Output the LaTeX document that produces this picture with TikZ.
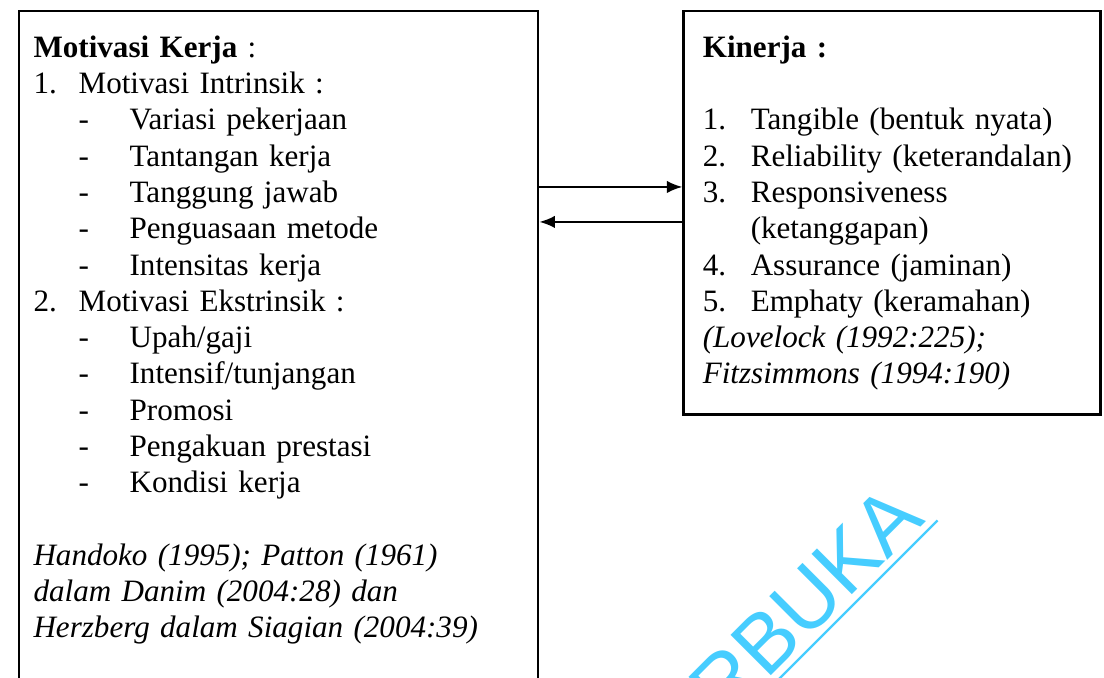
\documentclass[tikz,border=0pt]{standalone}
\usepackage{fontspec}
\setmainfont{Liberation Serif}
\newfontfamily\tandafont{Liberation Sans}
\usepackage{tikz}
\usetikzlibrary{arrows.meta,positioning}
\definecolor{birumuda}{RGB}{70,205,255}

\newcommand{\nomor}[3][17.4pt]{\makebox[#1][l]{#2}#3}
\newcommand{\butir}[1]{\hspace*{17.4pt}\makebox[19.7pt][l]{-}#1}

\begin{document}
\begin{tikzpicture}[x=0.386pt,y=-0.386pt,
	kotak/.style={rectangle,draw,line width=0.95pt,inner sep=0pt,anchor=north west},
	isi/.style={align=left,inner sep=0pt,anchor=north west,font=\fontsize{12}{14}\selectfont},
	panah/.style={line width=0.8pt,-{Latex[length=6pt,width=4.8pt]}}]
	\useasboundingbox (0,0) rectangle (1104,677);
	\clip (0,0) rectangle (1104,677);

	\begin{scope}
		\node[kotak,minimum width=200.3pt,minimum height=270pt] (motivasi) at (18,10) {};
		\node[kotak,minimum width=161pt,minimum height=155.6pt,right=55.2pt of motivasi.north east,anchor=north west] (kinerja) {};
		\node[isi,text width=185pt] (motivasiIsi) at ([xshift=5.8pt,yshift=-8.3pt]motivasi.north west) {\strut\textbf{Motivasi Kerja} :\\
			\nomor{1.}{Motivasi Intrinsik :}\\
			\butir{Variasi pekerjaan}\\
			\butir{Tantangan kerja}\\
			\butir{Tanggung jawab}\\
			\butir{Penguasaan metode}\\
			\butir{Intensitas kerja}\\
			\nomor{2.}{Motivasi Ekstrinsik :}\\
			\butir{Upah/gaji}\\
			\butir{Intensif/tunjangan}\\
			\butir{Promosi}\\
			\butir{Pengakuan prestasi}\\
			\butir{Kondisi kerja}\\[14pt]
			\textit{Handoko (1995); Patton (1961)}\\
			\textit{dalam Danim (2004:28) dan}\\
			\textit{Herzberg dalam Siagian (2004:39)}};
		\node[isi,text width=155pt] (kinerjaIsi) at ([xshift=7.7pt,yshift=-8.3pt]kinerja.north west) {\strut\textbf{Kinerja :}\\[14pt]
			\nomor[18.5pt]{1.}{Tangible (bentuk nyata)}\\
			\nomor[18.5pt]{2.}{Reliability (keterandalan)}\\
			\nomor[18.5pt]{3.}{Responsiveness}\\
			\hspace*{18.5pt}(ketanggapan)\\
			\nomor[18.5pt]{4.}{Assurance (jaminan)}\\
			\nomor[18.5pt]{5.}{Emphaty (keramahan)}\\
			\textit{(Lovelock (1992:225);}\\
			\textit{Fitzsimmons (1994:190)}};
	\end{scope}

	\begin{scope}
		\draw[panah] ([yshift=-68.3pt]motivasi.north east) -- ([yshift=-68.3pt]kinerja.north west);
		\draw[panah] ([yshift=-81.8pt]kinerja.north west) -- ([yshift=-81.8pt]motivasi.north east);
	\end{scope}

	\node[text=birumuda,font=\tandafont\fontsize{32}{32}\selectfont,rotate=45,anchor=base east,inner xsep=3pt,inner ysep=2.5pt] (tanda) at (932,515) {RBUKA};
	\draw[birumuda,line width=0.9pt] (tanda.south west) -- (tanda.south east);
\end{tikzpicture}
\end{document}
